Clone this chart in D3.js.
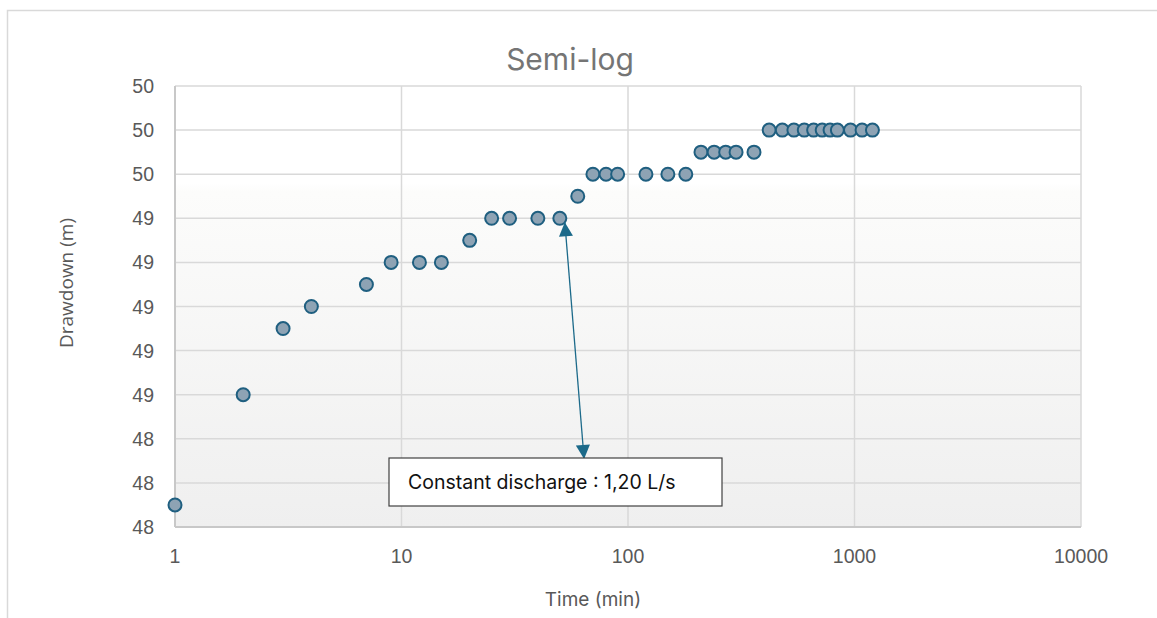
<!DOCTYPE html>
<html>
<head>
<meta charset="utf-8">
<script src="https://cdn.jsdelivr.net/npm/d3@7"></script>
<style>
  body { margin: 0; background: #fff; }
</style>
</head>
<body>
<script>
// time (min) and drawdown (m)
var times = [1, 2, 3, 4, 7, 9, 12, 15, 20, 25, 30, 40, 50, 60, 70, 80, 90, 120, 150, 180,
             210, 240, 270, 300, 360, 420, 480, 540, 600, 660, 720, 780, 840, 960, 1080, 1200];
var drawdowns = [48.1, 48.6, 48.9, 49.0, 49.1, 49.2, 49.2, 49.2, 49.3, 49.4, 49.4, 49.4, 49.4, 49.5,
                 49.6, 49.6, 49.6, 49.6, 49.6, 49.6, 49.7, 49.7, 49.7, 49.7, 49.7,
                 49.8, 49.8, 49.8, 49.8, 49.8, 49.8, 49.8, 49.8, 49.8, 49.8, 49.8];
var xTicks = [1, 10, 100, 1000, 10000];
var yTicks = [48, 48.2, 48.4, 48.6, 48.8, 49, 49.2, 49.4, 49.6, 49.8, 50];

var w = 1157, h = 618;
var svg = d3.select("body").append("svg")
    .attr("width", w)
    .attr("height", h)
    .style("font-family", "'Liberation Sans', Arial, sans-serif");

// outer chart border
svg.append("rect")
   .attr("x", 7.5).attr("y", 10.5)
   .attr("width", 1160).attr("height", 620)
   .attr("fill", "none")
   .attr("stroke", "#d9d9d9")
   .attr("stroke-width", 1.5);

// plot area ("top" is taken by window, so pTop etc)
var pLeft = 175, pRight = 1081, pTop = 86, pBottom = 527;

var x = d3.scaleLog().domain([1, 10000]).range([pLeft, pRight]);
var y = d3.scaleLinear().domain([48, 50]).range([pBottom, pTop]);

// plot background gradient
var defs = svg.append("defs");
var grad = defs.append("linearGradient")
    .attr("id", "bg").attr("x1", 0).attr("y1", 0).attr("x2", 0).attr("y2", 1);
grad.append("stop").attr("offset", "0%").attr("stop-color", "#ffffff");
grad.append("stop").attr("offset", "22%").attr("stop-color", "#ffffff");
grad.append("stop").attr("offset", "24%").attr("stop-color", "#fcfcfb");
grad.append("stop").attr("offset", "100%").attr("stop-color", "#efefef");

svg.append("rect")
   .attr("x", pLeft).attr("y", pTop)
   .attr("width", pRight - pLeft).attr("height", pBottom - pTop)
   .attr("fill", "url(#bg)");

// grid lines
svg.selectAll(".hgrid").data(yTicks).enter().append("line")
   .attr("x1", pLeft).attr("x2", pRight)
   .attr("y1", function(d) { return y(d); })
   .attr("y2", function(d) { return y(d); })
   .attr("stroke", "#d9d9d9").attr("stroke-width", 1.5);
svg.selectAll(".vgrid").data(xTicks).enter().append("line")
   .attr("y1", pTop).attr("y2", pBottom)
   .attr("x1", function(d) { return x(d); })
   .attr("x2", function(d) { return x(d); })
   .attr("stroke", "#d9d9d9").attr("stroke-width", 1.5);

// axis lines
svg.append("line").attr("x1", pLeft).attr("x2", pLeft).attr("y1", pTop).attr("y2", pBottom)
   .attr("stroke", "#c8c8c8").attr("stroke-width", 2);
svg.append("line").attr("x1", pLeft).attr("x2", pRight).attr("y1", pBottom).attr("y2", pBottom)
   .attr("stroke", "#c8c8c8").attr("stroke-width", 2);

// tick labels
svg.selectAll(".ylab").data(yTicks).enter().append("text")
   .attr("x", pLeft - 21)
   .attr("y", function(d) { return y(d); })
   .attr("dy", "0.36em")
   .attr("text-anchor", "end")
   .style("font-size", "19.5px")
   .attr("fill", "#595959")
   .text(function(d) { return d3.format(".0f")(d); });

svg.selectAll(".xlab").data(xTicks).enter().append("text")
   .attr("x", function(d) { return x(d); })
   .attr("y", pBottom + 36)
   .attr("text-anchor", "middle")
   .style("font-size", "19.5px")
   .attr("fill", "#595959")
   .text(function(d) { return d; });

// titles
svg.append("text")
   .attr("x", 570).attr("y", 70)
   .attr("text-anchor", "middle")
   .style("font-family", "Inter, sans-serif")
   .style("font-size", "30px")
   .attr("fill", "#757575")
   .text("Semi-log");

svg.append("text")
   .attr("x", 593).attr("y", 606)
   .attr("text-anchor", "middle")
   .style("font-family", "Inter, sans-serif")
   .style("font-size", "19px")
   .attr("fill", "#595959")
   .text("Time (min)");

svg.append("text")
   .attr("transform", "translate(73,283) rotate(-90)")
   .attr("text-anchor", "middle")
   .style("font-family", "'Open Sans', sans-serif")
   .style("font-size", "19px")
   .attr("fill", "#595959")
   .text("Drawdown (m)");

// data points
var pts = times.map(function(t, i) { return { t: t, d: drawdowns[i] }; });
svg.selectAll("circle").data(pts).enter().append("circle")
   .attr("cx", function(d) { return x(d.t); })
   .attr("cy", function(d) { return y(d.d); })
   .attr("r", 6.5)
   .attr("fill", "#8ea3b4")
   .attr("stroke", "#1f5f80")
   .attr("stroke-width", 2);

// double headed arrow from the t=50 point down to the label
var arrowColor = "#1c6a8a";
defs.append("marker")
   .attr("id", "head")
   .attr("viewBox", "0 0 10 10")
   .attr("refX", 10).attr("refY", 5)
   .attr("markerWidth", 15).attr("markerHeight", 14)
   .attr("markerUnits", "userSpaceOnUse")
   .attr("orient", "auto-start-reverse")
   .append("path").attr("d", "M0,0 L10,5 L0,10 z").attr("fill", arrowColor);

var ax1 = x(50) + 5, ay1 = y(49.4) + 4;
var ax2 = x(64), ay2 = 459;
svg.append("line")
   .attr("x1", ax1).attr("y1", ay1)
   .attr("x2", ax2).attr("y2", ay2)
   .attr("stroke", arrowColor).attr("stroke-width", 1.3)
   .attr("marker-start", "url(#head)")
   .attr("marker-end", "url(#head)");

// label box
svg.append("rect")
   .attr("x", 389).attr("y", 458)
   .attr("width", 333).attr("height", 48)
   .attr("fill", "#fff")
   .attr("stroke", "#404040").attr("stroke-width", 1.2);
svg.append("text")
   .attr("x", 408).attr("y", 489)
   .style("font-family", "Inter, sans-serif")
   .style("font-size", "19.5px")
   .attr("fill", "#111")
   .text("Constant discharge : 1,20 L/s");
</script>
</body>
</html>
